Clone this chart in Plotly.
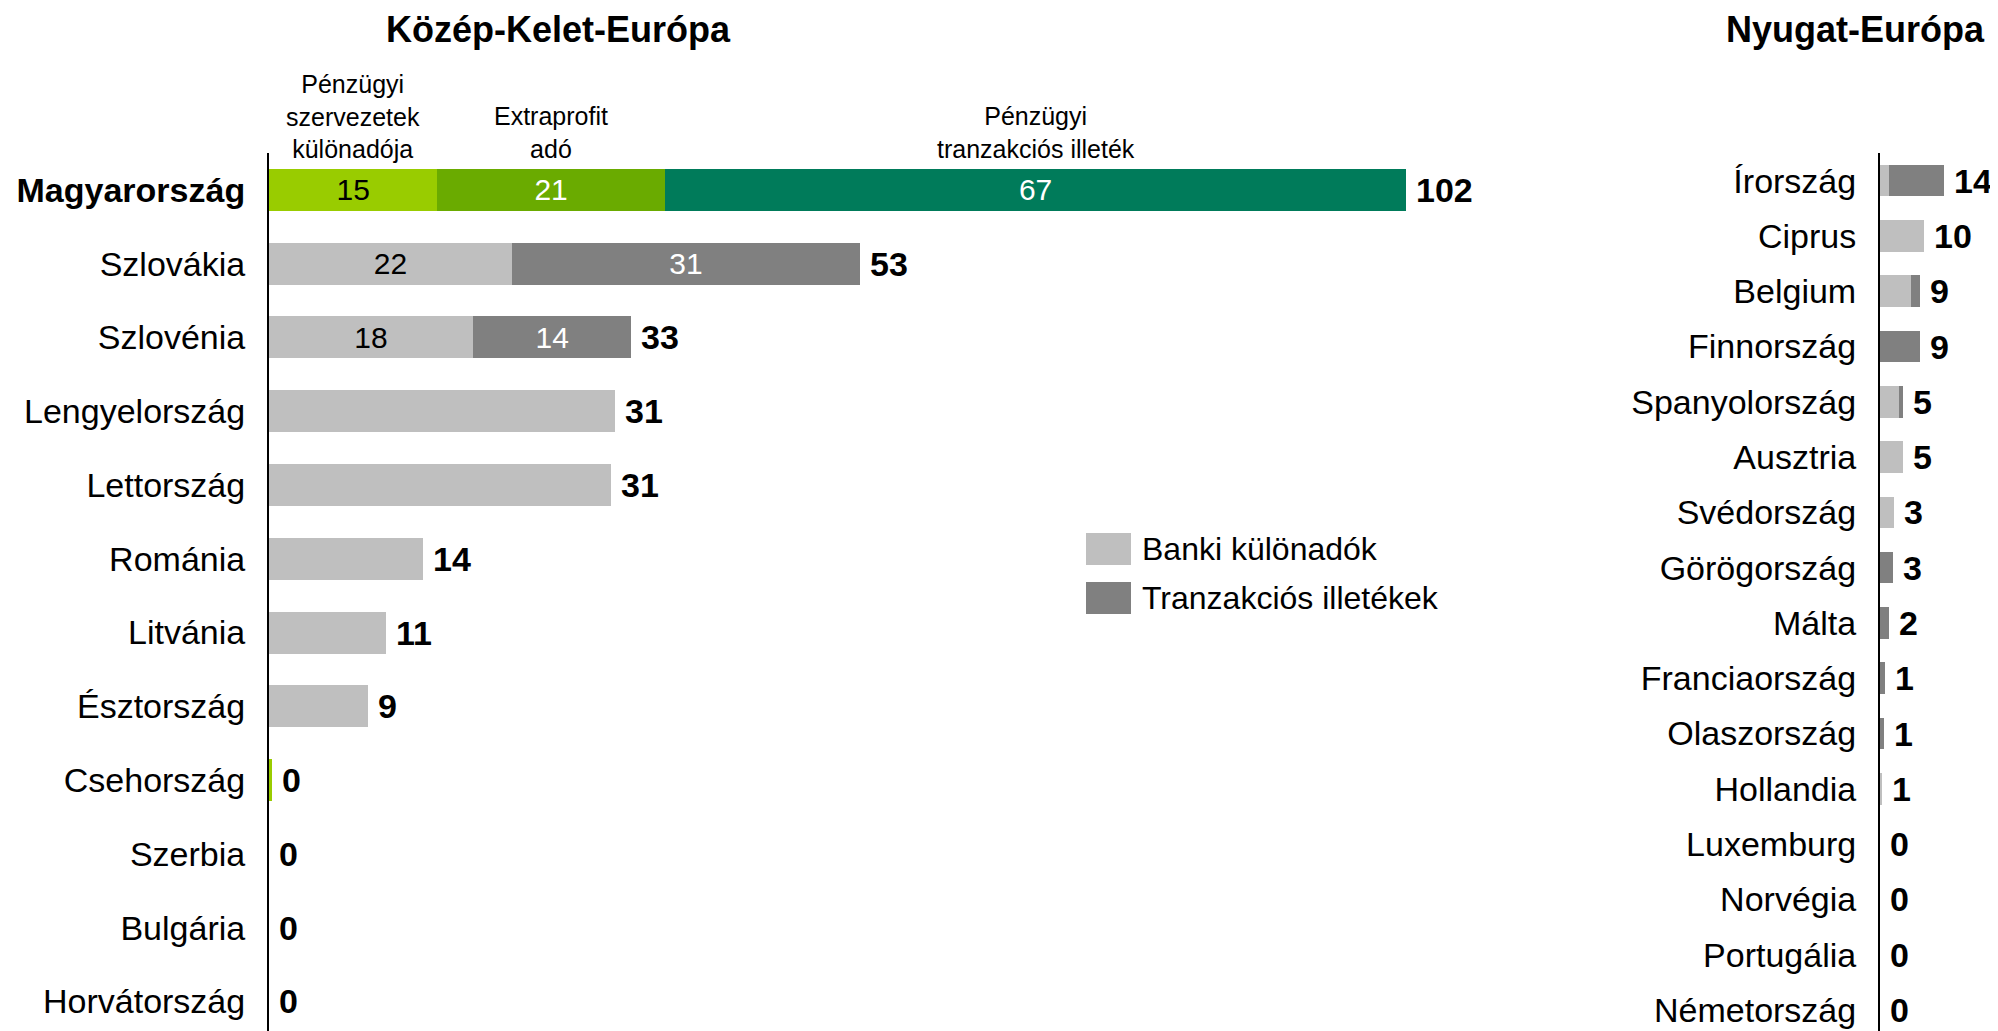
import plotly.graph_objects as go

FONT = "Arial, Liberation Sans, sans-serif"
# the page adds an 8px body margin, so the figure is drawn 8px in from the top-left corner
OFFSET = 8
W, H = 1998 - OFFSET, 1031 - OFFSET

# Közép-Kelet-Európa (left panel)
cee_countries = ["Magyarország", "Szlovákia", "Szlovénia", "Lengyelország", "Lettország", "Románia",
                 "Litvánia", "Észtország", "Csehország", "Szerbia", "Bulgária", "Horvátország"]
cee_special_levy = [15.1, 0, 0, 0, 0, 0, 0, 0, 0.3, 0, 0, 0]
cee_extraprofit = [20.4, 0, 0, 0, 0, 0, 0, 0, 0, 0, 0, 0]
cee_fin_trans = [66.5, 0, 0, 0, 0, 0, 0, 0, 0, 0, 0, 0]
cee_bank = [0, 21.8, 18.3, 31.0, 30.7, 13.8, 10.5, 8.9, 0, 0, 0, 0]
cee_trans = [0, 31.2, 14.2, 0, 0, 0, 0, 0, 0, 0, 0, 0]
cee_totals = [102, 53, 33, 31, 31, 14, 11, 9, 0, 0, 0, 0]
special_text = ["15"] + [""] * 11
extraprofit_text = ["21"] + [""] * 11
fin_trans_text = ["67"] + [""] * 11
cee_bank_text = ["", "22", "18", "", "", "", "", "", "", "", "", ""]
cee_trans_text = ["", "31", "14", "", "", "", "", "", "", "", "", ""]
hu_segment_names = ["Pénzügyi<br>szervezetek<br>különadója", "Extraprofit<br>adó", "Pénzügyi<br>tranzakciós illeték"]

# Nyugat-Európa (right panel)
we_countries = ["Írország", "Ciprus", "Belgium", "Finnország", "Spanyolország", "Ausztria", "Svédország",
                "Görögország", "Málta", "Franciaország", "Olaszország", "Hollandia", "Luxemburg",
                "Norvégia", "Portugália", "Németország"]
we_bank = [1.9, 9.7, 6.8, 0, 4.3, 5.1, 3.2, 0, 0, 0, 0, 0.4, 0, 0, 0, 0]
we_trans = [12.4, 0, 2.0, 8.8, 0.8, 0, 0, 2.9, 2.0, 1.1, 0.9, 0, 0, 0, 0, 0]
we_totals = [14, 10, 9, 9, 5, 5, 3, 3, 2, 1, 1, 1, 0, 0, 0, 0]

LIGHT_GRAY = "#BFBFBF"
DARK_GRAY = "#808080"
GREEN1 = "#99CC00"
GREEN2 = "#6AAB00"
GREEN3 = "#007B5A"


# screen pixel -> paper fraction
def px_x(p):
    return (p - OFFSET) / W


def px_y(p):
    return 1 - (p - OFFSET) / H


fig = go.Figure()

def add_bar(x, y, color, text, text_color, xa, ya, name):
    fig.add_trace(go.Bar(
        x=x, y=y, orientation="h", name=name, marker=dict(color=color, line=dict(width=0)),
        text=text, textposition="inside", insidetextanchor="middle", constraintext="none",
        textangle=0, textfont=dict(size=30, color=text_color, family=FONT),
        xaxis=xa, yaxis=ya, showlegend=False, hoverinfo="skip"))

add_bar(cee_special_levy, cee_countries, GREEN1, special_text, "black", "x", "y", "Pénzügyi szervezetek különadója")
add_bar(cee_extraprofit, cee_countries, GREEN2, extraprofit_text, "white", "x", "y", "Extraprofit adó")
add_bar(cee_fin_trans, cee_countries, GREEN3, fin_trans_text, "white", "x", "y", "Pénzügyi tranzakciós illeték")
add_bar(cee_bank, cee_countries, LIGHT_GRAY, cee_bank_text, "black", "x", "y", "Banki különadók")
add_bar(cee_trans, cee_countries, DARK_GRAY, cee_trans_text, "white", "x", "y", "Tranzakciós illetékek")

add_bar(we_bank, we_countries, LIGHT_GRAY, None, "black", "x2", "y2", "Banki különadók")
add_bar(we_trans, we_countries, DARK_GRAY, None, "white", "x2", "y2", "Tranzakciós illetékek")

annotations = []
# totals at the end of each bar
for i, c in enumerate(cee_countries):
    end = cee_special_levy[i] + cee_extraprofit[i] + cee_fin_trans[i] + cee_bank[i] + cee_trans[i]
    annotations.append(dict(x=end, y=c, xref="x", yref="y", text="<b>%d</b>" % cee_totals[i],
                            xanchor="left", xshift=8, showarrow=False,
                            font=dict(size=34, color="black", family=FONT)))
for i, c in enumerate(we_countries):
    end = we_bank[i] + we_trans[i]
    annotations.append(dict(x=end, y=c, xref="x2", yref="y2", text="<b>%d</b>" % we_totals[i],
                            xanchor="left", xshift=8, showarrow=False,
                            font=dict(size=34, color="black", family=FONT)))

# segment names above the Hungarian bar
hu_parts = [cee_special_levy[0], cee_extraprofit[0], cee_fin_trans[0]]
start = 0
for name, v in zip(hu_segment_names, hu_parts):
    annotations.append(dict(x=start + v / 2, y=px_y(165), xref="x", yref="paper", text=name,
                            xanchor="center", yanchor="bottom", showarrow=False,
                            font=dict(size=25, color="black", family=FONT)))
    start += v

# panel titles
for title, cx in [("Közép-Kelet-Európa", 558), ("Nyugat-Európa", 1855)]:
    annotations.append(dict(x=px_x(cx), y=1, xref="paper", yref="paper", text="<b>%s</b>" % title,
                            xanchor="center", yanchor="top", showarrow=False, borderpad=0,
                            font=dict(size=36, color="black", family=FONT)))

# legend drawn by hand (native legend swatches are too small)
legend_items = [("Banki különadók", LIGHT_GRAY, 549), ("Tranzakciós illetékek", DARK_GRAY, 598)]
shapes = []
for label, color, yc in legend_items:
    shapes.append(dict(type="rect", xref="paper", yref="paper", x0=px_x(1086), x1=px_x(1131),
                       y0=px_y(yc - 16), y1=px_y(yc + 16), fillcolor=color, line=dict(width=0)))
    annotations.append(dict(x=px_x(1140), y=px_y(yc), xref="paper", yref="paper", text=label,
                            xanchor="left", yanchor="middle", showarrow=False,
                            font=dict(size=32, color="black", family=FONT)))

y_top = px_y(153)
fig.update_layout(
    width=W, height=H, margin=dict(l=0, r=0, t=0, b=0),
    paper_bgcolor="white", plot_bgcolor="white",
    barmode="stack", bargap=0.43,
    showlegend=False,
    font=dict(family=FONT, color="black"),
    xaxis=dict(domain=[px_x(269), px_x(1500)], range=[0, 1231 / 11.15], visible=False),
    yaxis=dict(domain=[0, y_top], categoryorder="array", categoryarray=cee_countries,
               range=[11.4, -0.5], showline=True, linecolor="black", linewidth=2,
               showgrid=False, zeroline=False, ticks="", ticklabelstandoff=15,
               tickvals=cee_countries,
               ticktext=["<b>" + cee_countries[0] + "</b>"] + cee_countries[1:],
               tickfont=dict(size=34, color="black", family=FONT)),
    xaxis2=dict(domain=[px_x(1880), 1.0], range=[0, 110 / 4.2], visible=False, anchor="y2"),
    yaxis2=dict(domain=[0, y_top], anchor="x2", categoryorder="array", categoryarray=we_countries,
                range=[15.38, -0.5], showline=True, linecolor="black", linewidth=2,
                showgrid=False, zeroline=False, ticks="", ticklabelstandoff=15,
                tickfont=dict(size=34, color="black", family=FONT)),
    annotations=annotations,
    shapes=shapes,
)

fig.write_html("out.html")
